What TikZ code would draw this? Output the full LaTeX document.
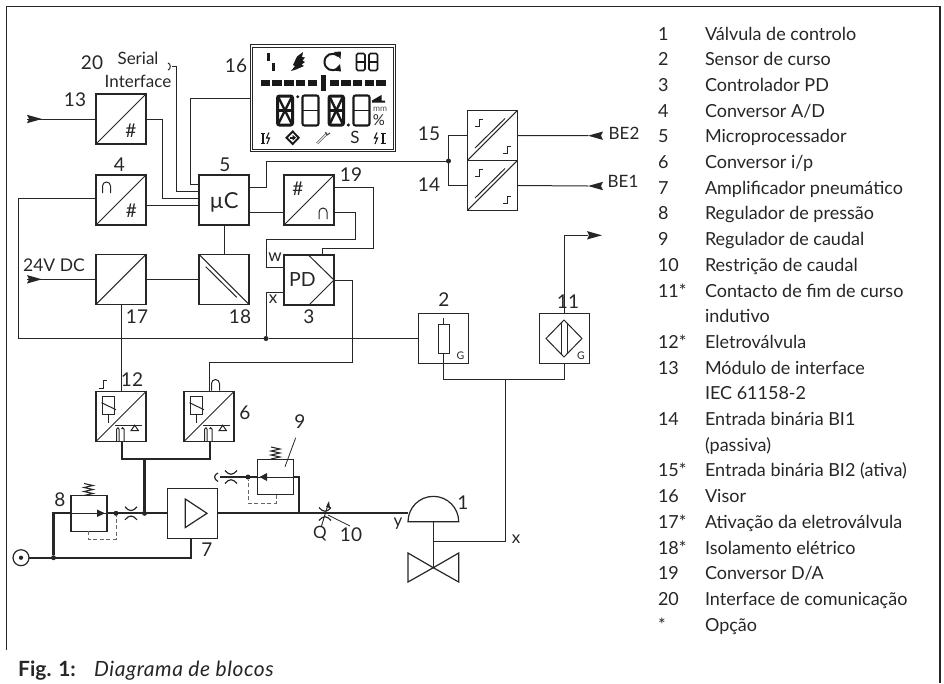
\documentclass[tikz,border=0pt]{standalone}
\usepackage{fontspec}
\setmainfont{Lato}
\colorlet{ln}{black!85}
\tikzset{
  x=1pt,y=-1pt,
  wire/.style={line width=1pt,draw=ln,line join=miter},
  air/.style={line width=2.3pt,draw=ln,line join=miter},
  dashline/.style={line width=1pt,draw=black!60,dash pattern=on 4pt off 2.5pt},
  blk/.style={draw=ln,line width=1.05pt,minimum size=50pt,inner sep=0pt,outer sep=0pt},
  blkc/.style={blk,line width=1.9pt},
  valvebox/.style={draw=ln,line width=1.05pt,minimum width=36pt,minimum height=35.5pt,inner sep=0pt,outer sep=0pt},
  lab/.style={inner sep=0pt,outer sep=0pt,text=ln,font=\fontsize{19}{21}\selectfont},
  labs/.style={inner sep=0pt,outer sep=0pt,text=ln,font=\fontsize{17}{19}\selectfont},
  leg/.style={inner sep=0pt,outer sep=0pt,text=ln,anchor=base west,font=\fontsize{18}{20}\selectfont},
  junction/.style={circle,fill=ln,inner sep=0pt,outer sep=0pt,minimum size=5pt},
  sym/.style={line width=1pt,draw=ln},
  seg/.style={line width=1.6pt,draw=black!90,rounded corners=1.5pt},
}
% arrowheads
\newcommand{\tipR}[2]{\fill[ln] ({#1},{#2-4.2}) -- ({#1+15},{#2}) -- ({#1},{#2+4.2}) -- ({#1+2},{#2}) -- cycle;}
\newcommand{\tipL}[2]{\fill[ln] ({#1},{#2-4.2}) -- ({#1-15},{#2}) -- ({#1},{#2+4.2}) -- ({#1-2},{#2}) -- cycle;}
% restriction
\newcommand{\restr}[2]{\draw[line width=1.2pt,draw=ln] ({#1-6},{#2-6.5}) .. controls ({#1-2},{#2-1.5}) and ({#1+2},{#2-1.5}) .. ({#1+6},{#2-6.5});
  \draw[line width=1.2pt,draw=ln] ({#1-6},{#2+6.5}) .. controls ({#1-2},{#2+1.5}) and ({#1+2},{#2+1.5}) .. ({#1+6},{#2+6.5});}
% arch symbol
\newcommand{\archsym}[2]{\draw[sym] ({#1-4},{#2+5.5}) -- ({#1-4},{#2-1.5}) arc[start angle=180,end angle=360,radius=4] -- ({#1+4},{#2+5.5});}
% step symbol: from low-left to high-right
\newcommand{\stepsym}[2]{\draw[sym] ({#1},{#2+7.5}) -- ({#1+4.5},{#2+7.5}) -- ({#1+4.5},{#2}) -- ({#1+8},{#2});}
% spring
\newcommand{\springsym}[2]{\draw[line width=1.1pt,draw=ln] ({#1-4.5},{#2}) -- ({#1+4.5},{#2-2}) -- ({#1-4.5},{#2-4}) -- ({#1+4.5},{#2-6}) -- ({#1-4.5},{#2-8}) -- ({#1+4.5},{#2-10}) -- ({#1-4.5},{#2-12});}
% transducer content (solenoid + pilot)
\newcommand{\pilotsym}[1]{\begin{scope}[shift={(#1,391.7)}]
  \draw[sym] (6,5) rectangle (18,22.5);
  \draw[sym] (5.5,11) -- (20,18);
  \draw[sym] (12,22.5) -- (12,31);
  \draw[sym] (19,33.5) -- (46,33.5);
  \draw[sym] (38.7,33.5) -- (35,39) -- (42.5,39) -- cycle;
  \draw[sym] (20.5,49.5) -- (20.5,37.5) -- (22,36) -- (23,37.5) -- (23,49.5);
  \draw[sym] (28,49.5) -- (28,37.5) -- (26.5,36) -- (25.5,37.5);
\end{scope}}
% seven segment digit
\newcommand{\digitA}[4]{\draw[seg] (#1,#2) rectangle (#3,#4);
  \draw[seg] (#1,{(#2+#4)/2}) -- (#3,{(#2+#4)/2});}
\newcommand{\digitB}[4]{\draw[line width=3pt,draw=black!90,rounded corners=2pt] ({#1+1.5},{#2+1.5}) rectangle ({#3-1.5},{#4-1.5});
  \draw[line width=2.6pt,draw=black!90] ({#1+1},{(#2+#4)/2}) -- ({#3-1},{(#2+#4)/2});
  \draw[line width=2.4pt,draw=black!90] ({#1+2},{#2+2}) -- ({#3-2},{#4-2});
  \draw[line width=2.4pt,draw=black!90] ({#3-2},{#2+2}) -- ({#1+2},{#4-2});}
\begin{document}
\begin{tikzpicture}
\useasboundingbox (0,0) rectangle (944,683);
% frame
\coordinate (fA) at (6.5,650);
\coordinate (fB) at (6.5,6.5);
\coordinate (fC) at (940,6.5);
\coordinate (fD) at (940,683);
\draw[line width=1.3pt,draw=ln] (fA) -- (fB) -- (fC) -- (fD);

% main blocks
\node[blk]  (b13) at (121,119) {};
\node[blk]  (b4)  at (121,200) {};
\node[blkc] (b5)  at (224,200) {};
\node[blk]  (b19) at (309,200) {};
\node[blk]  (b17) at (121,279.3) {};
\node[blk]  (b18) at (224,279.3) {};
\node[blk]  (b3)  at (309,280) {};
\node[blk]  (b2)  at (443.7,338.5) {};
\node[blk]  (b11) at (564.3,338.5) {};
\node[blk]  (b15) at (492.3,135.5) {};
\node[blk]  (b14) at (492.3,185.5) {};
\node[blk]  (b12) at (121,416.5) {};
\node[blk]  (b6)  at (209,416.5) {};
\node[blk]  (b7)  at (192.7,513.3) {};
\node[valvebox] (b8) at (89,513.3) {};
\node[valvebox] (b9) at (275.3,477) {};
\node[draw=ln,line width=1.2pt,minimum width=145pt,minimum height=106.5pt,inner sep=0pt,outer sep=0pt] (d16) at (323,98) {};
\node[draw=ln,line width=1pt,minimum width=140.5pt,minimum height=102pt,inner sep=0pt,outer sep=0pt] (d16i) at (323,98) {};

% diagonals and block contents
\draw[wire] (b13.south west) -- (b13.north east);
\draw[wire] (b4.south west) -- (b4.north east);
\draw[wire] (b19.south west) -- (b19.north east);
\draw[wire] (b17.south west) -- (b17.north east);
\draw[wire] (b18.north west) -- (b18.south east);
\draw[wire] (205.7,266.7) -- (236.7,297.3);
\draw[wire] (b15.south west) -- (b15.north east);
\draw[wire] (b14.south west) -- (b14.north east);
\draw[wire] (475,148) -- (505,118.5);
\draw[wire] (475,198) -- (505,168.5);
\draw[wire] (b12.south west) -- (b12.north east);
\draw[wire] (b6.south west) -- (b6.north east);
\stepsym{475}{119}\stepsym{503}{146}
\stepsym{475}{169}\stepsym{503}{196}
\archsym{106.5}{187.5}
\archsym{323}{213.5}
\node[lab] (hash13) at (131,131) {\#};
\node[lab] (hash4) at (131.5,211) {\#};
\node[lab] (hash19) at (298,189) {\#};
\node[inner sep=0pt,text=ln,font=\fontsize{22}{24}\selectfont] (mu) at (224,202) {µC};
\node[inner sep=0pt,outer sep=0pt,text=ln,font=\fontsize{19.5}{21}\selectfont] (pd) at (302.5,280) {PD};
\draw[wire] (308,254.6) -- (b3.east) -- (309,305);
% amplifier
\draw[line width=1.2pt,draw=ln] (185.3,499) -- (207,513.3) -- (185.3,527.5) -- cycle;
% sensor 2
\draw[wire] (438,324.5) rectangle (449,353);
\draw[wire] (443.7,318) -- (443.7,324.5);
\draw[wire] (443.7,353) -- (b2.south);
\node[inner sep=0pt,text=ln,font=\fontsize{10.5}{12}\selectfont] (g2) at (460.5,356) {G};
% proximity switch 11
\draw[wire] (546,338.5) -- (564,320) -- (582,338.5) -- (564,357) -- cycle;
\draw[wire] (561,323) -- (561,354);
\draw[wire] (567,323) -- (567,354);
\node[inner sep=0pt,text=ln,font=\fontsize{10.5}{12}\selectfont] (g11) at (581,356) {G};
% solenoids
\pilotsym{96}
\pilotsym{184}
\stepsym{99}{380.5}
\archsym{215.5}{385}

% electrical connectors
\coordinate (in13) at (27,119);
\coordinate (in24) at (27,279.3);
\draw[wire] (in13) -- (b13.west);
\tipR{27}{119}
\draw[wire] (in24) -- (b17.west);
\tipR{27}{279.3}
\draw[wire] (b17.east) -- (b18.west);
\draw[wire] (b5.south) -- (b18.north);
\draw[wire] (b13.east) -- (162,119) -- (162,198) -- (b5.west |- 0,198);
\draw[wire] (b4.east |- 0,205) -- (b5.west |- 0,205);
\draw[wire] (d16.west) -- (190,98) -- (190,184) -- (b5.west |- 0,184);
\coordinate (hook) at (172,66.5);
\draw[wire] (168,63) .. controls (171,63.5) and (171,69.5) .. (168,70);
\draw[wire] (hook) -- (176,66.5) -- (176,191) -- (b5.west |- 0,191);
\draw[wire] (b5.east |- 0,212) -- (b19.west |- 0,212);
\node[junction] (j15) at (448.5,161) {};
\draw[wire] (b5.east |- 0,187.5) -- (266,187.5) -- (266,161) -- (j15);
\draw[wire] (b15.west) -- (448.5,135.5) -- (448.5,185.5) -- (b14.west);
\coordinate (be2) at (588,135.7);
\coordinate (be1) at (588,186);
\draw[wire] (b15.east) -- (be2);
\draw[wire] (b14.east) -- (be1);
\tipL{603}{135.7}
\tipL{603}{186}
\draw[wire] (b19.east |- 0,187.5) -- (373,187.5) -- (373,248) -- (322.7,248) -- (322.7,255);
\draw[wire] (b19.east |- 0,212) -- (355,212) -- (355,239) -- (266,239) -- (266,267) -- (b3.west |- 0,267);
\node[junction] (j3) at (266,338.5) {};
\draw[wire] (b3.west |- 0,292) -- (266,292) -- (j3);
\draw[wire] (b4.west |- 0,198) -- (18,198) -- (18,338.5) -- (j3) -- (b2.west);
\draw[wire] (b17.south) -- (b12.north -| b17.south);
\draw[wire] (b3.east) -- (352,280) -- (352,362) -- (209,362) -- (b6.north);
\draw[wire] (b2.south) -- (443.7,379.3) -- (564.3,379.3) -- (b11.south);
\coordinate (out11) at (588,235.3);
\draw[wire] (b11.north) -- (564.3,235.3) -- (out11);
\tipR{587}{235.3}

% pneumatic lines
\coordinate (sup) at (21,557.7);
\draw[line width=1.2pt,draw=ln] (sup) circle (8);
\fill[ln] (sup) circle (2.1);
\node[junction] (j8) at (53.5,557.7) {};
\node[junction] (j8b) at (116,513.3) {};
\node[junction] (j7) at (144.5,513.3) {};
\node[junction] (j9) at (248,477) {};
\draw[air] (29,557.7) -- (191,557.7) -- (b7.south -| 191,0);
\draw[air] (j8) -- (53.5,513.3) -- (b8.west);
\draw[wire] (b8.west) -- (b8.east);
\fill[ln] (97,509.5) -- (105,513.3) -- (97,517) -- cycle;
\draw[air] (b8.east) -- (b7.west);
\draw[air] (j7) -- (144.5,459) -- (121.7,459) -- (121.7,441.5);
\draw[air] (144.5,459) -- (209.7,459) -- (209.7,441.5);
\restr{131}{513.3}
\draw[air] (b7.east) -- (408,513.3);
\draw[air] (299,513.3) -- (299,477) -- (b9.east);
\draw[wire] (b9.east) -- (b9.west);
\fill[ln] (267,473) -- (259.5,477) -- (267,481) -- cycle;
\draw[air] (b9.west) -- (220,477);
\restr{231}{477}
\draw[line width=1.2pt,draw=ln] (218,473) .. controls (213.5,475) and (213.5,479) .. (218,481.5);
\draw[dashline] (b8.south -| 88.3,0) -- (88.3,539) -- (116,539) -- (j8b);
\draw[dashline] (b9.south -| 276,0) -- (276,503) -- (248,503) -- (j9);
\springsym{88.5}{495.5}
\springsym{275.5}{459}
\draw[line width=.8pt,draw=ln] (295.7,437.7) -- (285,466.7);

% restriction 10
\restr{325}{514}
\draw[line width=.9pt,draw=ln] (321.5,526) -- (328.5,503);
\fill[ln] (329,501) -- (326,507) -- (330,508) -- cycle;
\draw[line width=.8pt,draw=ln] (328,515) -- (350,526);

% actuator
\node[inner sep=0pt,outer sep=0pt,minimum width=50.7pt,minimum height=0pt] (act) at (433.3,521.7) {};
\draw[line width=1.2pt,draw=ln] (408,521.7) arc[start angle=180,end angle=360,radius=25.35] -- cycle;
\coordinate (vc) at (433.3,567.7);
\draw[line width=1.2pt,draw=ln] (408,553) -- (408,582) -- (vc) -- cycle;
\draw[line width=1.2pt,draw=ln] (458.7,553) -- (458.7,582) -- (vc) -- cycle;
\draw[line width=1.2pt,draw=ln] (act.center) -- (vc);
\draw[wire] (505.3,379.3) -- (505.3,541) -- (433.3,541);

% display
\fill[black!90] (267,53) rectangle (270,61);
\fill[black!90] (272,63) rectangle (275,71);
\fill[black!90] (291,71) -- (296,69.5) -- (304,66) -- (301.5,64.5) -- (305,62) -- (302.5,60.5) -- (305,57.5) -- (302,57) -- (303,52) -- (297,56.5) -- (293,65) -- (295,66) -- cycle;
\draw[line width=2pt,draw=black!90] (338,56) .. controls (332,51) and (324.5,55) .. (324.5,62) .. controls (324.5,69) and (332,73) .. (338,68);
\fill[black!90] (334,52) -- (341,51.5) -- (340.5,59) -- cycle;
\fill[black!90] (334,70.5) -- (341,71.5) -- (340,64) -- cycle;
\digitA{356.5}{53.5}{365}{70.5}
\digitA{369}{53.5}{377.5}{70.5}
\foreach \k in {0,...,4}{\fill[black!90] ({260.7+11.7*\k},80) rectangle ({270.2+11.7*\k},86);}
\fill[black!90] (321,75) rectangle (325.7,91);
\foreach \k in {0,...,4}{\fill[black!90] ({329.5+11.7*\k},80) rectangle ({339+11.7*\k},86);}
\digitB{276}{94.5}{294}{126.5}
\draw[line width=2.1pt,draw=black!90,rounded corners=2pt] (302.5,95.5) rectangle (318.5,125.5);
\draw[line width=1.4pt,draw=black!90] (302.5,110.5) -- (318.5,110.5);
\digitB{327.5}{94.5}{345}{126.5}
\draw[line width=2.1pt,draw=black!90,rounded corners=2pt] (353.5,95.5) rectangle (369.5,125.5);
\draw[line width=1.4pt,draw=black!90] (353.5,110.5) -- (369.5,110.5);
\fill[black!90] (297.7,96.7) circle (1.6);
\fill[black!90] (348.3,125) circle (1.7);
\fill[black!90] (372,100.5) -- (381.5,95) -- (381.5,100.5) -- (385,100.5) -- (385,102.5) -- (372,102.5) -- cycle;
\node[inner sep=0pt,text=black!70,font=\fontsize{8.5}{10}\selectfont] (mm) at (380,109.5) {mm};
\node[inner sep=0pt,text=ln,font=\fontsize{15}{17}\selectfont] (pct) at (379,120.5) {\%};
% bottom icons
\draw[line width=2pt,draw=black!90] (262.5,133) -- (262.5,143);
\draw[line width=.8pt,draw=black!90] (260.5,133) -- (264.5,133) (260.5,143) -- (264.5,143);
\draw[line width=1.1pt,draw=black!90] (269,132.5) -- (266.5,138) -- (269.5,138) -- (267,144);
\draw[line width=1.9pt,draw=black!90] (292.7,131.5) -- (298.7,137.7) -- (292.7,144) -- (286.5,137.7) -- cycle;
\fill[black!90] (289.5,136.7) rectangle (293,138.7);
\fill[black!90] (292.5,134.7) -- (296,137.7) -- (292.5,140.7) -- cycle;
\draw[line width=2.3pt,draw=black!65] (317,143.5) -- (327,133.5);
\draw[line width=.9pt,draw=white] (317,143.5) -- (327,133.5);
\draw[line width=1pt,draw=black!75] (325.5,132) -- (327,135) -- (330,133);
\node[inner sep=0pt,text=ln,font=\fontsize{17}{19}\selectfont] (dS) at (355,137.7) {S};
\draw[line width=2.4pt,draw=black!90] (383,133) -- (383,143);
\draw[line width=.8pt,draw=black!90] (380.5,133) -- (385.5,133) (380.5,143) -- (385.5,143);
\draw[line width=1.1pt,draw=black!90] (377,132.5) -- (374.5,138) -- (377.5,138) -- (375,144);

% diagram labels
\node[lab] (l20) at (92,63) {20};
\node[labs] (lser) at (138,58) {Serial};
\node[labs] (lint) at (138,81) {Interface};
\node[lab] (l16) at (236,66) {16};
\node[lab] (l13) at (75,100) {13};
\node[lab] (l4) at (119.5,165) {4};
\node[lab] (l5) at (225,165) {5};
\node[lab] (l19) at (351,175) {19};
\node[lab] (l15) at (429,134) {15};
\node[lab] (l14) at (429,185) {14};
\node[labs] (lbe2) at (624,133) {BE2};
\node[labs] (lbe1) at (623,181) {BE1};
\node[inner sep=0pt,outer sep=0pt,text=ln,font=\fontsize{17.5}{19}\selectfont] (l24) at (54,265) {24V DC};
\node[labs] (lw) at (275,257) {w};
\node[labs] (lx) at (273,299) {x};
\node[lab] (l17) at (137,317) {17};
\node[lab] (l18) at (240,317) {18};
\node[lab] (l3) at (309,317) {3};
\node[lab] (l2) at (444,300) {2};
\node[lab] (l11) at (568,302) {11};
\node[lab] (l12) at (132,380) {12};
\node[lab] (l6) at (245,413) {6};
\node[lab] (l9) at (300,422) {9};
\node[lab] (l8) at (60,500) {8};
\node[lab] (l7) at (207,550) {7};
\node[labs] (lq) at (320,534) {Q};
\node[lab] (l10) at (351,535) {10};
\node[lab] (l1) at (463,503) {1};
\node[labs] (ly) at (398,524) {y};
\node[labs] (lx2) at (516,539) {x};

% legend
\foreach \k/\n/\t in {0/1/{Válvula de controlo},1/2/{Sensor de curso},2/3/{Controlador PD},3/4/{Conversor A/D},4/5/{Microprocessador},5/6/{Conversor i/p},6/7/{Amplificador pneumático},7/8/{Regulador de pressão},8/9/{Regulador de caudal},9/10/{Restrição de caudal},10/11*/{Contacto de fim de curso},11//{indutivo},12/12*/{Eletroválvula},13/13/{Módulo de interface},14//{IEC 61158-2},15/14/{Entrada binária BI1},16//{(passiva)},17/15*/{Entrada binária BI2 (ativa)},18/16/{Visor},19/17*/{Ativação da eletroválvula},20/18*/{Isolamento elétrico},21/19/{Conversor D/A},22/20/{Interface de comunicação},23/*/{Opção}}{
  \node[leg] (legn\k) at (658,{40+25.7*\k}) {\n};
  \node[leg] (legt\k) at (705,{40+25.7*\k}) {\t};
}
% caption
\node[inner sep=0pt,anchor=base west,text=ln,font=\fontsize{21}{23}\selectfont\bfseries] (cap1) at (18,676.5) {Fig. 1:};
\node[inner sep=0pt,anchor=base west,text=ln,font=\fontsize{21}{23}\selectfont\itshape\addfontfeature{LetterSpace=2.6}] (cap2) at (94,676.5) {Diagrama de blocos};
\end{tikzpicture}
\end{document}
